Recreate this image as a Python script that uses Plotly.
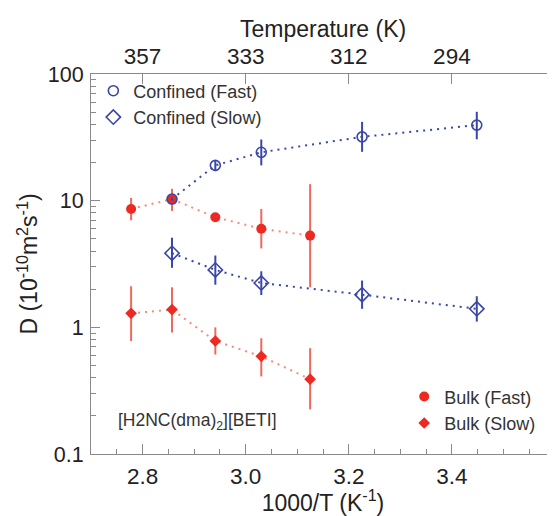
import plotly.graph_objects as go

# ---- data ----
bulk_T = [360, 350, 340, 330, 320]
bulk_fast = [8.6, 10.3, 7.4, 6.0, 5.3]
bulk_fast_hi = [10.5, 12.4, 7.7, 8.6, 13.5]
bulk_fast_lo = [7.0, 8.3, 7.1, 4.2, 2.07]

bulk_slow = [1.29, 1.38, 0.78, 0.59, 0.39]
bulk_slow_hi = [2.11, 2.07, 1.0, 0.82, 0.685]
bulk_slow_lo = [0.78, 0.91, 0.61, 0.41, 0.225]

conf_fast_T = [350, 340, 330, 310, 290]
conf_fast = [10.3, 19.0, 24.1, 31.9, 39.5]
conf_fast_hi = [10.6, 20.6, 30.4, 41.9, 50.3]
conf_fast_lo = [10.0, 17.1, 19.0, 24.3, 30.5]

conf_slow_T = [350, 340, 330, 310, 290]
conf_slow = [3.85, 2.84, 2.24, 1.81, 1.40]
conf_slow_hi = [5.1, 3.69, 2.77, 2.34, 1.76]
conf_slow_lo = [2.95, 2.17, 1.80, 1.40, 1.11]

x_ticks = [2.8, 3.0, 3.2, 3.4]
x_ticktext = ["2.8", "3.0", "3.2", "3.4"]
top_ticktext = ["357", "333", "312", "294"]
y_ticks = [0.1, 1, 10, 100]
y_ticktext = ["0.1", "1", "10", "100"]

BLUE = "#3a46a8"
RED = "#ec2a22"
RED_LIGHT = "#f0695c"
RED_DOT = "#f38a7e"
FONT = "Liberation Sans, Arial, sans-serif"
AXC = "#8a8a8a"


def inv(ts):
    return [1000.0 / t for t in ts]


def errs(v, hi, lo, color):
    return dict(type="data", symmetric=False,
                array=[h - a for h, a in zip(hi, v)],
                arrayminus=[a - l for a, l in zip(v, lo)],
                color=color, thickness=2, width=0)


fig = go.Figure()

series = [
    ("Bulk (Fast)", bulk_T, bulk_fast, bulk_fast_hi, bulk_fast_lo, RED_DOT, "circle", 10, RED, "legend2"),
    ("Bulk (Slow)", bulk_T, bulk_slow, bulk_slow_hi, bulk_slow_lo, RED_DOT, "diamond", 9, RED, "legend2"),
    ("Confined (Fast)", conf_fast_T, conf_fast, conf_fast_hi, conf_fast_lo, BLUE, "circle-open", 10, BLUE, "legend"),
    ("Confined (Slow)", conf_slow_T, conf_slow, conf_slow_hi, conf_slow_lo, BLUE, "diamond-open", 11, BLUE, "legend"),
]

# dotted connecting lines first
for name, T, v, hi, lo, lc, sym, sz, mc, lg in series:
    fig.add_trace(go.Scatter(
        x=inv(T), y=v, mode="lines", showlegend=False, hoverinfo="skip",
        line=dict(color=lc, width=2, dash="2px,5px")))

for name, T, v, hi, lo, lc, sym, sz, mc, lg in series:
    ecol = RED_LIGHT if mc == RED else BLUE
    mk = dict(symbol=sym, size=sz, color=mc)
    if "open" in sym:
        mk["line"] = dict(width=1.6, color=mc)
    fig.add_trace(go.Scatter(
        x=inv(T), y=v, name=name, mode="markers", marker=mk,
        error_y=errs(v, hi, lo, ecol), legend=lg))

# empty trace to activate top axis
fig.add_trace(go.Scatter(x=[], y=[], xaxis="x2", showlegend=False, hoverinfo="skip"))

minor_y = [m * 10 ** d for d in (-1, 0, 1) for m in range(2, 10)]

# the page body adds an 8px offset, so the figure is 8px smaller than the window
fig.update_layout(
    width=547, height=508,
    margin=dict(l=83, r=0, t=66, b=62, autoexpand=False),
    paper_bgcolor="white", plot_bgcolor="white",
    font=dict(family=FONT, size=23, color="#222"),
    xaxis=dict(
        range=[2.7, 3.6], tickmode="array", tickvals=x_ticks, ticktext=x_ticktext,
        ticks="inside", ticklen=10, tickwidth=1, tickcolor=AXC, automargin=False,
        showline=True, linecolor=AXC, linewidth=1, showgrid=False, zeroline=False,
        minor=dict(dtick=0.05, tick0=2.7, ticks="inside", ticklen=5, tickcolor=AXC, showgrid=False),
        title=dict(text="1000/T (K<sup>-1</sup>)", standoff=12, font=dict(size=23)),
        tickfont=dict(size=22.5), ticklabelstandoff=2,
    ),
    xaxis2=dict(
        overlaying="x", side="top", anchor="y", automargin=False,
        range=[2.7, 3.6], tickmode="array", tickvals=x_ticks, ticktext=top_ticktext,
        ticks="inside", ticklen=10, tickwidth=1, tickcolor=AXC,
        showline=True, linecolor=AXC, linewidth=1, showgrid=False, zeroline=False,
        tickfont=dict(size=22.5),
    ),
    yaxis=dict(
        type="log", range=[-1, 2], tickmode="array", tickvals=y_ticks, ticktext=y_ticktext,
        ticks="inside", ticklen=9, tickwidth=1, tickcolor=AXC, automargin=False,
        showline=True, linecolor=AXC, linewidth=1, showgrid=False, zeroline=False,
        minor=dict(tickmode="array", tickvals=minor_y, ticks="inside", ticklen=5,
                   tickcolor=AXC, showgrid=False),
        title=dict(text="D (10<sup>-10</sup>m<sup>2</sup>s<sup>-1</sup>)", standoff=3,
                   font=dict(size=23)),
        tickfont=dict(size=21.5), ticklabelstandoff=2,
    ),
    legend=dict(x=0.005, y=1.004, xanchor="left", yanchor="top",
                bgcolor="rgba(0,0,0,0)", font=dict(size=18, color="#333"),
                itemwidth=30, tracegroupgap=0),
    legend2=dict(x=0.675, y=0.199, xanchor="left", yanchor="top",
                 bgcolor="rgba(0,0,0,0)", font=dict(size=18, color="#333"),
                 itemwidth=30, tracegroupgap=0),
    annotations=[
        dict(text="[H2NC(dma)<sub>2</sub>][BETI]", xref="paper", yref="paper",
             x=0.054, y=0.085, xanchor="left", yanchor="middle", showarrow=False,
             font=dict(size=17.5, color="#333")),
        dict(text="Temperature (K)", xref="paper", yref="paper",
             x=0.5, y=1, xanchor="center", yanchor="middle", yshift=45, showarrow=False,
             font=dict(size=23, color="#222")),
    ],
    showlegend=True,
)

fig.write_html("out.html")
